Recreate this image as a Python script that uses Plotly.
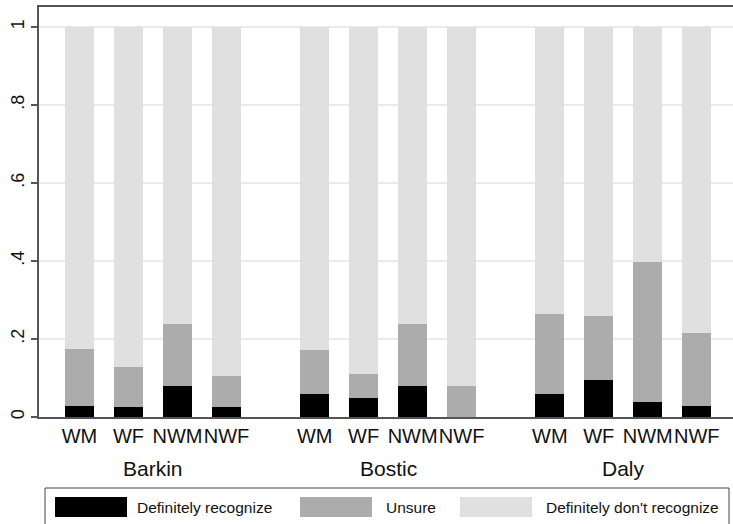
import plotly.graph_objects as go

# ---- data ----
candidates = ["Barkin", "Bostic", "Daly"]
groups = ["WM", "WF", "NWM", "NWF"]
recognize = {
    "Barkin": [0.029, 0.025, 0.079, 0.026],
    "Bostic": [0.060, 0.050, 0.079, 0.000],
    "Daly":   [0.060, 0.094, 0.039, 0.028],
}
unsure = {
    "Barkin": [0.145, 0.103, 0.160, 0.080],
    "Bostic": [0.113, 0.061, 0.160, 0.080],
    "Daly":   [0.205, 0.164, 0.359, 0.188],
}
dont_recognize = {
    "Barkin": [0.826, 0.872, 0.761, 0.894],
    "Bostic": [0.827, 0.889, 0.761, 0.920],
    "Daly":   [0.735, 0.742, 0.602, 0.784],
}
series_names = ["Definitely recognize", "Unsure", "Definitely don't recognize"]
series_colors = ["#000000", "#acacac", "#e0e0e0"]
ytick_vals = [0, 0.2, 0.4, 0.6, 0.8, 1.0]
ytick_text = ["0", ".2", ".4", ".6", ".8", "1"]

# ---- layout geometry ----
W, H = 733, 524
ML, MR, MT, MB = 39, 0, 7, 107
PW, PH = W - ML - MR, H - MT - MB
GROUP_STEP = 4.8
FONT = "Liberation Sans, Arial, sans-serif"

def px_x(p):
    return (p - ML) / PW

def px_y(p):
    return (H - MB - p) / PH

xpos, xlab, cand_centers = [], [], []
for ci, c in enumerate(candidates):
    xs = [ci * GROUP_STEP + gi for gi in range(len(groups))]
    xpos += xs
    xlab += groups
    cand_centers.append(sum(xs) / len(xs))

fig = go.Figure()
for name, color, data in zip(series_names, series_colors,
                             [recognize, unsure, dont_recognize]):
    vals = []
    for c in candidates:
        vals += data[c]
    fig.add_trace(go.Bar(x=xpos, y=vals, name=name, width=0.59,
                         marker=dict(color=color, line=dict(width=0)),
                         showlegend=False))

# group labels
for c, cx in zip(candidates, cand_centers):
    fig.add_annotation(x=cx, xref="x", y=px_y(468), yref="paper",
                       text=c, showarrow=False, yanchor="middle",
                       font=dict(size=21, family=FONT, color="#111"))

# custom legend box
shapes = [dict(type="rect", xref="paper", yref="paper",
               x0=px_x(45), x1=px_x(729), y0=px_y(530), y1=px_y(488),
               line=dict(color="#444", width=1), fillcolor="rgba(0,0,0,0)")]
sw_x = [55, 300, 460]
tx_x = [135, 384, 544]
for sx, tx, name, color in zip(sw_x, tx_x, series_names, series_colors):
    shapes.append(dict(type="rect", xref="paper", yref="paper",
                       x0=px_x(sx), x1=px_x(sx + 72), y0=px_y(517), y1=px_y(497),
                       line=dict(width=0), fillcolor=color))
    fig.add_annotation(x=px_x(tx), xref="paper", y=px_y(507), yref="paper",
                       text=name, showarrow=False, xanchor="left", yanchor="middle",
                       font=dict(size=15.5, family=FONT, color="#111"))

fig.update_layout(
    width=W, height=H, barmode="stack",
    margin=dict(l=ML, r=MR, t=MT, b=MB, pad=0, autoexpand=False),
    paper_bgcolor="white", plot_bgcolor="white",
    shapes=shapes, showlegend=False,
    font=dict(family=FONT, color="#111"),
    xaxis=dict(range=[-0.827, 13.34], tickvals=xpos, ticktext=xlab,
               tickangle=0,
               ticks="", showgrid=False, zeroline=False, automargin=False,
               showline=True, linecolor="#555", linewidth=1.5, mirror=True,
               tickfont=dict(size=20, family=FONT, color="#111"),
               ticklabelstandoff=0),
    yaxis=dict(range=[0, 1.0513], tickvals=ytick_vals, ticktext=ytick_text,
               tickangle=-90, ticks="outside", ticklen=6, tickcolor="#555",
               tickwidth=1.5, automargin=False,
               showgrid=True, gridcolor="#eaeaea", gridwidth=1.5,
               zeroline=False, showline=True, linecolor="#555", linewidth=1.5,
               tickfont=dict(size=18, family=FONT, color="#111")),
)

fig.write_html("out.html", config={"displayModeBar": False},
               post_script="document.body.style.margin='0';document.body.style.overflow='hidden';")
